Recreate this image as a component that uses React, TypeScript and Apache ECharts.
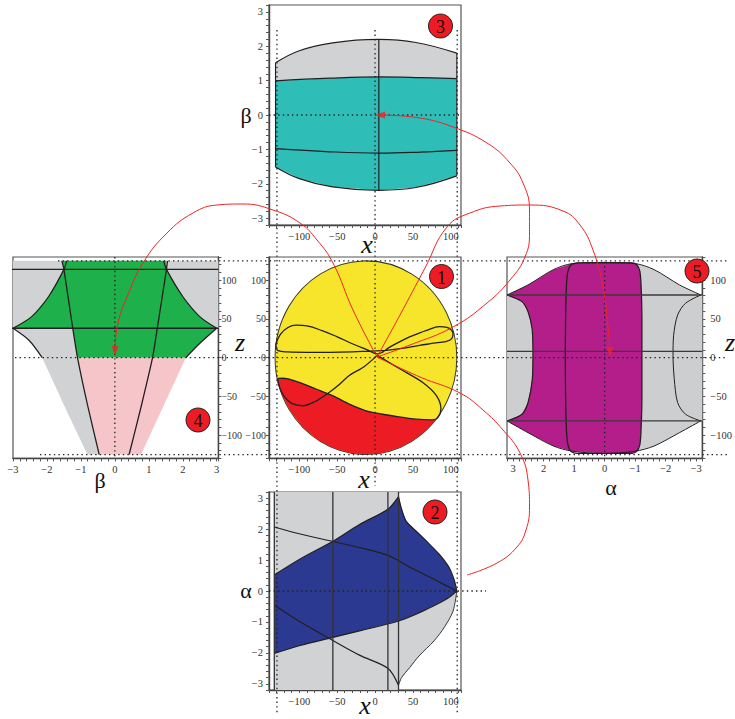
import React, { useEffect, useRef } from "react";
import * as echarts from "echarts";

// ---------------- Panel 3 (x, β) ----------------
const p3TopArc = [[-131.4, 1.52], [-100, 1.87], [-56, 2.1], [5, 2.2], [54, 2.11], [108, 1.8]];
const p3TealTop = [[-131.4, 0.99], [-60, 1.07], [5, 1.11], [60, 1.09], [108, 1.06]];
const p3MidLine = [[-131.4, -0.98], [-60, -1.07], [5, -1.11], [60, -1.08], [108, -1.03]];
const p3BottomArc = [[-131.4, -1.51], [-100, -1.85], [-56, -2.09], [5, -2.19], [54, -2.11], [108, -1.77]];
const p3VLine = [[5, 2.2], [5, -2.19]];

// ---------------- Panel 1 (x, z) ----------------
const p1Disc = [[-12, 0, 120, 125]]; // centre x, centre z, radius x, radius z
const p1RedTop = [[-128.4, -27.3], [-122, -26.5], [-100, -31.8], [-78, -40.4], [-56, -49], [-34, -60], [-12, -68.6], [10, -73], [32, -76.4], [54, -79.4], [76, -80.3], [83, -77.5]];
const p1RedArc = [[81, -79], [71, -90], [53, -105], [33, -116], [9, -123], [-12, -125], [-33, -123], [-57, -116], [-77, -105], [-95, -90], [-111, -70], [-123, -48], [-129, -27]];
const p1LoopA = [[-131, 17], [-125, 30], [-115, 39], [-104, 42], [-90, 41], [-70, 35], [-50, 27], [-30, 18], [-10, 10], [3, 5], [20, 14], [45.6, 26.8], [70, 36], [85, 40], [95, 39], [101, 35.5], [103, 31], [98.4, 22.5], [80, 19], [58.8, 16], [35, 12], [14.8, 9.5], [-7, 8.6], [-30, 7.5], [-60, 7], [-90, 7], [-115, 7.5], [-128, 9], [-131, 17]];
const p1LoopBLeft = [[3, 3], [-15, -12], [-34, -23], [-50, -37], [-62, -46], [-78, -56], [-95, -62], [-110, -59], [-120, -50], [-126, -38], [-128.4, -27.3]];
const p1LoopBRight = [[83, -77.5], [87, -66], [81, -49], [63, -32], [32, -14], [3, 3]];

// ---------------- Panel 2 (x, α) ----------------
const p2BlueTop = [[-133, 0.52], [-100, 1.02], [-55.7, 1.61], [-20.5, 2.15], [17, 2.64], [31, 3.05]];
const p2BellTop = [[31, 3.05], [35, 2.65], [41, 2.26], [54, 1.94], [68, 1.61], [85, 1.18], [98, 0.75], [105, 0.32], [108, 0]];
const p2BlueBottom = [[108, 0], [94, -0.27], [63, -0.65], [31, -0.97], [-20.5, -1.29], [-55.7, -1.5], [-100, -1.77], [-133, -2.02]];
const p2BellBottom = [[108, 0], [103, -0.65], [92, -1.15], [78, -1.61], [58, -2.1], [46, -2.47], [35, -2.8], [31, -3.05]];
const p2CrossTop = [[-133, 2.07], [-100, 1.85], [-55.7, 1.6], [-20, 1.4], [17, 1.15], [50, 0.72], [80, 0.35], [108, 0]];
const p2CrossBottom = [[-133, -0.45], [-100, -0.98], [-55.7, -1.6], [-20, -2.08], [17, -2.5], [31, -3.05]];
const p2VLines = [-133, -55.7, 17, 31];

// ---------------- Panel 4 (β, z) ----------------
const p4GrayTop = [[-3.05, 38], [-3.05, 125], [3.05, 125], [3.05, 38]];
const p4GrayBand = [[-3.0, 38], [-2.53, 22.5], [-2.14, 0], [-1.49, -62], [-0.81, -125], [-0.46, -125], [-0.8, -62], [-1.1, 0], [-1.24, 38]];
const p4Green = [[-1.55, 125], [1.5, 125], [1.52, 114], [2.0, 79], [2.5, 53], [3.0, 38], [2.49, 18], [2.09, 0], [-1.1, 0], [-1.24, 38], [-3.0, 38], [-2.45, 53], [-1.95, 79], [-1.5, 114]];
const p4Pink = [[-1.1, 0], [2.09, 0], [0.77, -125], [-0.46, -125]];
const p4LeftLine = [[-1.56, 125], [-1.5, 114], [-1.24, 38], [-1.1, 0], [-0.8, -62], [-0.46, -125]];
const p4RightLine = [[1.55, 125], [1.52, 114], [1.25, 38], [1.11, 0], [0.78, -62], [0.42, -125]];
const p4ConcaveL = [[-1.42, 125], [-1.5, 114], [-1.95, 79], [-2.45, 53], [-3.0, 38]];
const p4ConcaveR = [[1.44, 125], [1.52, 114], [2.0, 79], [2.5, 53], [3.0, 38]];
const p4ConvexL = [[-3.0, 38], [-2.53, 22.5], [-2.14, 0]];
const p4ConvexR = [[3.0, 38], [2.49, 18], [2.09, 0]];
const p4HLines = [114, 38];

// ---------------- Panel 5 (α, z) ----------------
const p5EnvTop = [[3.2, 81], [2.51, 94], [1.68, 113.7], [1.06, 121.5], [0, 123], [-1.0, 121.5], [-1.62, 113.7], [-2.45, 94], [-3.15, 81]];
const p5EnvBottom = [[3.2, -81.6], [2.51, -96.8], [1.68, -114], [1.06, -120.7], [0, -123.7], [-1.0, -120.7], [-1.62, -114], [-2.45, -96.8], [-3.15, -81.6]];
const p5LeftCurve = [[3.2, 81], [2.71, 72.4], [2.51, 59.4], [2.38, 37.7], [2.35, 7.3], [2.37, -27.3], [2.51, -57.8], [2.71, -73], [3.2, -81.6]];
const p5RightCurve = [[-3.15, 81], [-2.65, 70.3], [-2.39, 55], [-2.26, 29], [-2.24, 3], [-2.28, -27], [-2.39, -57.8], [-2.65, -73], [-3.15, -81.6]];
const p5Rect = [[0.9, 122.5], [1.1, 120], [1.2, 112], [1.25, 95], [1.28, 50], [1.29, 0], [1.28, -50], [1.25, -95], [1.2, -113], [1.1, -121], [0.9, -123.5], [-0.9, -123.5], [-1.05, -121], [-1.15, -113], [-1.19, -95], [-1.22, -50], [-1.22, 0], [-1.22, 50], [-1.19, 95], [-1.15, 112], [-1.05, 120], [-0.9, 122.5], [0.9, 122.5]];
const p5HLines = [81, 8.2, -81.6];

// ---------------- Red connectors (page pixels) ----------------
const redA = [[377, 357], [410, 345], [453, 327], [487, 303], [510, 280], [525, 257], [529.5, 233], [529.5, 210], [523, 183], [510, 163], [487, 143], [453, 127], [420, 118], [382, 115]];
const redB = [[377, 357], [400, 315], [425, 268], [447, 227], [470, 213], [500, 206], [530, 205], [563, 211], [580, 225], [593, 250], [603, 287], [608, 327], [610, 350]];
const redC = [[377, 357], [353, 310], [333, 263], [317, 240], [300, 223], [273, 210], [243, 204], [217, 205], [193, 213], [167, 233], [143, 263], [127, 297], [118, 323], [115, 349]];
const redD = [[377, 357], [420, 377], [460, 393], [483, 410], [503, 430], [520, 453], [528, 480], [529.5, 507], [526, 530], [517, 547], [497, 563], [467, 575]];
const arrowHeads = [[380, 115, 90], [610, 352, 180], [115, 351, 180]];

const badges = [["3", 440.5, 26], ["1", 441.5, 276.5], ["2", 435, 512], ["4", 198, 420], ["5", 697, 271]];
const axisNames = [
  ["β", 246, 115, false], ["x", 367, 244, true], ["x", 364, 479, true], ["x", 365, 705, true],
  ["α", 246, 590, false], ["β", 100, 480, false], ["z", 240, 342, true], ["α", 611, 487, false], ["z", 730, 342, true],
];

const SERIF = '"Liberation Serif", "DejaVu Serif", serif';
const C = {
  yellow: "#f7e52b", red: "#ed1c24", teal: "#2fbdb7", gray: "#d1d2d4", navy: "#2b3990",
  green: "#1db04b", pink: "#f5c5ca", magenta: "#b31e8b", gray5: "#cdcecf", line: "#231f20",
};

function fmt(step: number) {
  return (v: number) => {
    const k = v / step;
    if (Math.abs(k - Math.round(k)) > 1e-6) return "";
    const r = Math.round(k) * step;
    if (r === 0) return "0";
    return r < 0 ? "\u2212" + Math.abs(r) : String(r);
  };
}

function axis(min: number, max: number, interval: number, step: number, gridIndex: number, extra: any = {}, margin = 6, fontSize = 10.5) {
  return {
    type: "value", gridIndex, min, max, interval,
    axisLine: { show: true, onZero: false, lineStyle: { color: "#444", width: 1.4 } },
    axisTick: { show: true, length: 3, lineStyle: { color: "#555", width: 1 } },
    splitLine: { show: false },
    axisLabel: { formatter: fmt(step), interval: 0, hideOverlap: false, fontFamily: SERIF, fontSize, color: "#333", margin },
    ...extra,
  };
}

function poly(g: number, pts: number[][], fill: string, stroke = "none", lw = 1) {
  return {
    type: "custom", xAxisIndex: g, yAxisIndex: g, clip: true, silent: true, z: 2,
    data: pts, encode: { x: 0, y: 1 },
    renderItem: (params: any, api: any) => {
      if (params.dataIndex !== 0) return null;
      return { type: "polygon", shape: { points: pts.map((q) => api.coord(q)) }, style: { fill, stroke, lineWidth: lw } };
    },
  };
}

function line(g: number, pts: number[][], color = C.line, width = 1.1, smooth: any = 0.3, z = 3) {
  return {
    type: "line", xAxisIndex: g, yAxisIndex: g, data: pts, showSymbol: false, symbol: "none",
    smooth, silent: true, z, clip: true, lineStyle: { color, width },
  };
}

export default function App() {
  const ref = useRef<HTMLDivElement>(null);
  useEffect(() => {
    if (!ref.current) return;
    const chart = echarts.init(ref.current, undefined, { renderer: "svg" });

    const grids = [
      { left: 269, top: 5, width: 192, height: 220 },
      { left: 269, top: 257, width: 192, height: 201.4 },
      { left: 269, top: 492, width: 192, height: 198 },
      { left: 13, top: 257, width: 205.4, height: 201.4 },
      { left: 507, top: 257, width: 206, height: 201.4 },
      { left: 0, top: 0, width: 735, height: 719 },
    ].map((g, i) => ({ ...g, show: i < 5, borderColor: "#555", borderWidth: 1.2, backgroundColor: "transparent" }));

    const xAxis = [
      axis(-140, 113.5, 10, 50, 0),
      axis(-140, 113.5, 10, 50, 1),
      axis(-140, 113.5, 10, 50, 2),
      axis(-3, 3.05, 0.2, 1, 3),
      axis(-3.2, 3.2, 0.2, 1, 4, { inverse: true }, 5),
      { type: "value", gridIndex: 5, min: 0, max: 735, show: false },
    ];
    const yAxis = [
      axis(-3.2, 3.2, 0.2, 1, 0),
      axis(-130, 130, 10, 50, 1, {}, 3, 10),
      axis(-3.2, 3.2, 0.2, 1, 2),
      axis(-130, 130, 10, 50, 3, { position: "right" }, 3, 10),
      axis(-130, 130, 10, 50, 4, { position: "right" }, 8),
      { type: "value", gridIndex: 5, min: 0, max: 719, inverse: true, show: false },
    ];

    const series: any[] = [];
    // Panel 3
    series.push(poly(0, [...p3TopArc, ...p3TealTop.slice().reverse()], C.gray));
    series.push(poly(0, [...p3TealTop, ...p3BottomArc.slice().reverse()], C.teal));
    series.push(line(0, p3TopArc, C.line, 1.2, 0.4));
    series.push(line(0, p3TealTop, C.line, 1.2, 0.4));
    series.push(line(0, p3BottomArc, C.line, 1.2, 0.4));
    series.push(line(0, p3MidLine, C.line, 1.2, 0.4));
    series.push(line(0, p3VLine, C.line, 1.2, false));
    series.push(line(0, [p3TopArc[0], p3BottomArc[0]], C.line, 1.1, false));
    series.push(line(0, [p3TopArc[p3TopArc.length - 1], p3BottomArc[p3BottomArc.length - 1]], C.line, 1.1, false));
    // Panel 1
    series.push({
      type: "custom", xAxisIndex: 1, yAxisIndex: 1, clip: true, silent: true, z: 1,
      data: p1Disc, encode: { x: 0, y: 1 },
      renderItem: (params: any, api: any) => {
        const c = api.coord([api.value(0), api.value(1)]);
        const s = api.size([api.value(2), api.value(3)]);
        const rx = Math.abs(s[0]), ry = Math.abs(s[1]);
        return { type: "circle", x: c[0], y: c[1], scaleY: ry / rx, shape: { cx: 0, cy: 0, r: rx }, style: { fill: C.yellow, stroke: "#3a3a2a", lineWidth: 1 } };
      },
    });
    series.push(poly(1, [...p1RedTop, ...p1RedArc], C.red));
    series.push(line(1, p1LoopA, C.line, 1.3, 0.4));
    series.push(line(1, [...p1LoopBLeft, ...p1RedTop.slice(1), ...p1LoopBRight.slice(1)], C.line, 1.3, 0.3));
    // Panel 2
    series.push(poly(2, [[-133, 3.2], [31, 3.2], ...p2BellTop, ...p2BellBottom.slice(1), [31, -3.2], [-133, -3.2]], C.gray));
    series.push(poly(2, [...p2BlueTop, ...p2BellTop.slice(1), ...p2BlueBottom.slice(1)], C.navy));
    series.push(line(2, p2BlueTop, C.line, 1.2));
    series.push(line(2, p2BellTop, C.line, 1.2));
    series.push(line(2, p2BlueBottom, C.line, 1.2));
    series.push(line(2, p2BellBottom, C.line, 0.9));
    series.push(line(2, p2CrossTop, C.line, 1.2));
    series.push(line(2, p2CrossBottom, C.line, 1.2));
    p2VLines.forEach((v) => series.push(line(2, [[v, -3.2], [v, 3.2]], "#333", 1.3, false)));
    // Panel 4
    series.push(poly(3, p4GrayTop, C.gray));
    series.push(poly(3, p4GrayBand, C.gray));
    series.push(poly(3, p4Green, C.green));
    series.push(poly(3, p4Pink, C.pink));
    p4HLines.forEach((h) => series.push(line(3, [[-3.05, h], [3.05, h]], "#222", 1.3, false)));
    series.push(line(3, p4LeftLine, C.line, 1.3, 0.2));
    series.push(line(3, p4RightLine, C.line, 1.3, 0.2));
    series.push(line(3, p4ConcaveL, C.line, 1.2, 0.3));
    series.push(line(3, p4ConcaveR, C.line, 1.2, 0.3));
    series.push(line(3, p4ConvexL, C.line, 1.2, 0.3));
    series.push(line(3, p4ConvexR, C.line, 1.2, 0.3));
    // Panel 5
    series.push(poly(4, [...p5EnvTop, [-3.2, 81], [-3.2, -81.6], ...p5EnvBottom.slice().reverse()], C.gray5));
    series.push(poly(4, [...p5LeftCurve, ...p5EnvBottom.slice(1, 5), ...p5Rect.slice(11, 22), ...p5EnvTop.slice(1, 5).reverse()], C.magenta));
    series.push(line(4, p5EnvTop, C.line, 1, 0.3));
    series.push(line(4, p5EnvBottom, C.line, 1, 0.3));
    series.push(line(4, p5LeftCurve, C.line, 1.2, 0.3));
    series.push(line(4, p5RightCurve, C.line, 1, 0.3));
    series.push(line(4, p5Rect, C.line, 1.3, 0.25));
    p5HLines.forEach((h) => series.push(line(4, [[-3.2, h], [3.2, h]], "#3a3a3a", 1.4, false)));
    // Red connectors
    [redA, redB, redC, redD].forEach((r) => series.push(line(5, r, "#ee2424", 1, 0.45, 20)));
    series.push({
      type: "scatter", xAxisIndex: 5, yAxisIndex: 5, data: arrowHeads, symbol: "triangle", symbolSize: [7, 10],
      symbolRotate: (v: number[]) => v[2], itemStyle: { color: "#ee2424" }, silent: true, z: 21,
    });

    chart.setOption({ animation: false, backgroundColor: "#ffffff", grid: grids, xAxis, yAxis, series });

    const px = (g: number, v: number[]) => chart.convertToPixel({ gridIndex: g } as any, v) as number[];
    const dash = { stroke: "#222", lineWidth: 1.3, lineDash: [1.4, 3.2] };
    const els: any[] = [];
    const hl = (y: number, x1: number, x2: number) => els.push({ type: "line", z: 10, silent: true, shape: { x1, y1: y, x2, y2: y }, style: dash });
    const vl = (x: number, y1: number, y2: number) => els.push({ type: "line", z: 10, silent: true, shape: { x1: x, y1, x2: x, y2 }, style: dash });
    hl(px(1, [0, 125])[1], 58, 728);
    hl(px(1, [0, 0])[1], 15, 728);
    hl(px(1, [0, -125])[1], 40, 728);
    vl(px(1, [-129.5, 0])[0], 30, 714);
    vl(px(1, [108.5, 0])[0], 30, 714);
    vl(px(1, [0, 0])[0], 30, 486);
    hl(px(0, [0, 0])[1], px(0, [-140, 0])[0], px(0, [113.5, 0])[0]);
    hl(px(2, [0, 0])[1], px(2, [-140, 0])[0], 486);
    vl(px(3, [0, 0])[0], px(3, [0, 130])[1], px(3, [0, -130])[1]);
    vl(px(4, [0, 0])[0], px(4, [0, 124])[1], px(4, [0, -130])[1]);

    axisNames.forEach(([t, x, y, it]) =>
      els.push({
        type: "text", x, y, z: 30, silent: true,
        style: { text: t, font: `${it ? "italic " : ""}${it ? 26 : 22}px ${SERIF}`, fill: "#111", align: "center", verticalAlign: "middle" },
      })
    );
    badges.forEach(([t, x, y]) =>
      els.push({
        type: "group", x, y, z: 30, silent: true,
        children: [
          { type: "circle", shape: { cx: 0, cy: 0, r: 12 }, style: { fill: "#ed1c24", stroke: "#222", lineWidth: 1 }, z: 30 },
          { type: "text", z: 31, style: { text: t, x: 0, y: 1, font: `18px ${SERIF}`, fill: "#111", align: "center", verticalAlign: "middle" } },
        ],
      })
    );
    chart.setOption({ graphic: { elements: els } });

    return () => chart.dispose();
  }, []);
  return <div ref={ref} style={{ position: "fixed", left: 0, top: 0, width: 735, height: 719, background: "#fff" }} />;
}
